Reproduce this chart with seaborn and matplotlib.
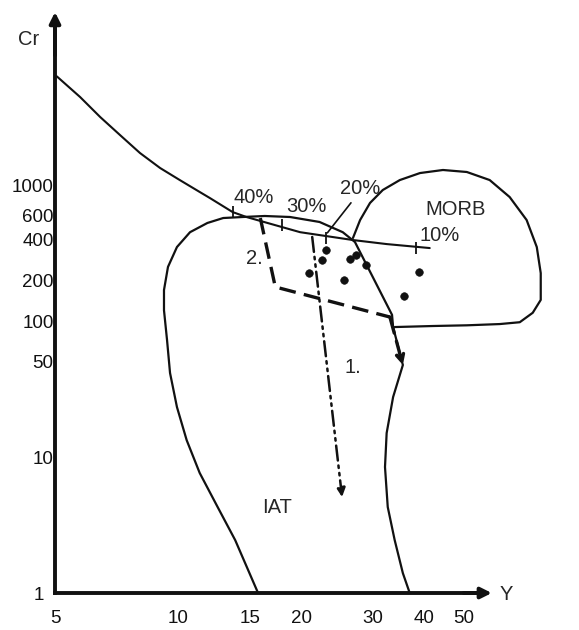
import numpy as np
import pandas as pd
import matplotlib
matplotlib.use("Agg")
import matplotlib.pyplot as plt
from matplotlib.ticker import NullLocator
import seaborn as sns

# Cr vs Y diagram (log-log) (Y ppm, Cr ppm)

# fractional crystallisation curve
frac_y = [5.05, 5.76, 6.45, 7.21, 8.07, 9.04, 10.1, 11.3, 11.97, 13.6, 14.7,
          19.9, 26.8, 32.4, 41.3]
frac_cr = [6300, 4436, 3162, 2333, 1720, 1334, 1088, 889, 802, 633, 582,
           450, 394, 368, 344]
# percent marks on the curve (40, 30, 20, 10 %)
mark_y = [13.6, 18.0, 23.0, 38.2]
mark_cr = [633, 508, 408, 344]

# IAT field
iat_y = [15.7, 13.8, 12.5, 11.3, 10.5, 9.94, 9.56, 9.40, 9.24, 9.24, 9.45, 9.94,
         10.7, 11.8, 12.9, 14.4, 16.3, 18.8, 22.2, 25.3, 27.1, 33.4, 33.6, 35.5,
         33.6, 32.4, 32.1, 32.6, 33.9, 35.5, 36.9]
iat_cr = [1, 2.45, 4.29, 7.63, 13.3, 23.3, 41.5, 72.5, 120, 169, 250, 350,
          450, 526, 572, 582, 592, 582, 535, 450, 381, 111, 90.3, 47.5,
          27.6, 15.0, 8.44, 4.29, 2.45, 1.40, 1]

# MORB field
morb_y = [26.8, 27.9, 29.5, 31.7, 34.9, 39.1, 44.5, 50.9, 57.9, 64.8, 71.3, 75.5,
          77.2, 77.2, 73.8, 68.6, 61.3, 50.9, 42.0, 33.9]
morb_cr = [408, 553, 738, 919, 1088, 1225, 1290, 1247, 1088, 816, 553, 350,
           225, 143, 115, 98, 95, 93, 91.9, 90.3]

# trend 2 (dashed) and trend 1 (dash-dot)
trend2_y = [15.9, 17.3, 33.0, 35.5]
trend2_cr = [572, 178, 107, 47.5]
trend1_y = [21.3, 25.2]
trend1_cr = [415, 5.08]

# samples
pts_y = [23.0, 22.5, 20.9, 25.5, 26.3, 27.2, 28.8, 35.7, 38.8]
pts_cr = [333, 281, 225, 200, 286, 306, 258, 153, 229]

xticks = [5, 10, 15, 20, 30, 40, 50]
yticks = [1, 10, 50, 100, 200, 400, 600, 1000]

sns.set_style("white")
plt.rcParams["font.family"] = ["Liberation Sans", "DejaVu Sans"]

fig = plt.figure(figsize=(5.79, 6.30), dpi=100)
ax = fig.add_axes([0.095, 0.0587, 0.872, 0.9254])
ax.set_xscale("log")
ax.set_yscale("log")
ax.set_xlim(5, 86)
ax.set_ylim(1, 19360)

k = "#111111"
sns.lineplot(x=frac_y, y=frac_cr, sort=False, estimator=None, color=k, lw=1.5, ax=ax)
sns.lineplot(x=iat_y, y=iat_cr, sort=False, estimator=None, color=k, lw=1.6, ax=ax)
sns.lineplot(x=morb_y, y=morb_cr, sort=False, estimator=None, color=k, lw=1.6, ax=ax)
ax.plot(mark_y, mark_cr, ls="none", marker="|", ms=9, mew=1.3, color=k)

ax.plot(trend2_y[:3], trend2_cr[:3], color=k, lw=2.4, ls=(0, (5, 2.5)))
ax.annotate("", xy=(trend2_y[3], trend2_cr[3]), xytext=(trend2_y[2], trend2_cr[2]),
            arrowprops=dict(arrowstyle="-|>", lw=2.4, ls=(0, (5, 2.5)), color=k,
                            mutation_scale=13, shrinkA=0, shrinkB=0))
ax.annotate("", xy=(trend1_y[1], trend1_cr[1]), xytext=(trend1_y[0], trend1_cr[0]),
            arrowprops=dict(arrowstyle="-|>", lw=1.8, ls=(0, (6, 2, 1, 2, 1, 2)), color=k,
                            mutation_scale=13, shrinkA=0, shrinkB=0))

sns.scatterplot(x=pts_y, y=pts_cr, color=k, s=30, edgecolor=k, ax=ax, zorder=5)

# leader line for the 20 % label
ax.plot([26.5, 23.2], [740, 445], color=k, lw=1.2)

fs = 14.5
ax.text(15.3, 816, "40%", fontsize=fs, ha="center", va="center")
ax.text(20.6, 701, "30%", fontsize=fs, ha="center", va="center")
ax.text(27.9, 950, "20%", fontsize=fs, ha="center", va="center")
ax.text(43.7, 429, "10%", fontsize=fs, ha="center", va="center")
ax.text(47.9, 666, "MORB", fontsize=fs, ha="center", va="center")
ax.text(15.4, 290, "2.", fontsize=fs, ha="center", va="center")
ax.text(26.8, 45.9, "1.", fontsize=fs, ha="center", va="center")
ax.text(17.5, 4.22, "IAT", fontsize=fs, ha="center", va="center")
ax.text(63.7, 0.98, "Y", fontsize=fs, ha="center", va="center", clip_on=False)
fig.text(0.05, 0.938, "Cr", fontsize=fs, ha="center", va="center")

# axes with arrow heads
for s in ["top", "right"]:
    ax.spines[s].set_visible(False)
for s in ["left", "bottom"]:
    ax.spines[s].set_linewidth(2.8)
    ax.spines[s].set_color(k)
ax.spines["bottom"].set_bounds(5, 55)
ax.spines["left"].set_bounds(1, 15000)
ax.annotate("", xy=(58.6, 1), xytext=(50, 1), annotation_clip=False,
            arrowprops=dict(arrowstyle="-|>", lw=2.8, color=k, mutation_scale=16,
                            shrinkA=0, shrinkB=0))
ax.annotate("", xy=(5, 18700), xytext=(5, 9000), annotation_clip=False,
            arrowprops=dict(arrowstyle="-|>", lw=2.8, color=k, mutation_scale=16,
                            shrinkA=0, shrinkB=0))

ax.set_xticks(xticks)
ax.set_xticklabels([str(v) for v in xticks])
ax.set_yticks(yticks)
ax.set_yticklabels([str(v) for v in yticks])
ax.xaxis.set_minor_locator(NullLocator())
ax.yaxis.set_minor_locator(NullLocator())
ax.tick_params(axis="x", direction="in", length=6, width=1.2, pad=12, labelsize=13.5, colors=k)
ax.tick_params(axis="y", direction="in", length=6, width=1.2, pad=1, labelsize=13.5, colors=k)
# the "1" label sits further out, with an outward tick
ax.yaxis.get_major_ticks()[0].tick1line.set_marker(0)
ax.yaxis.get_major_ticks()[0].set_pad(8)
ax.set_xlabel("")
ax.set_ylabel("")

fig.savefig("out.png", dpi=100)
